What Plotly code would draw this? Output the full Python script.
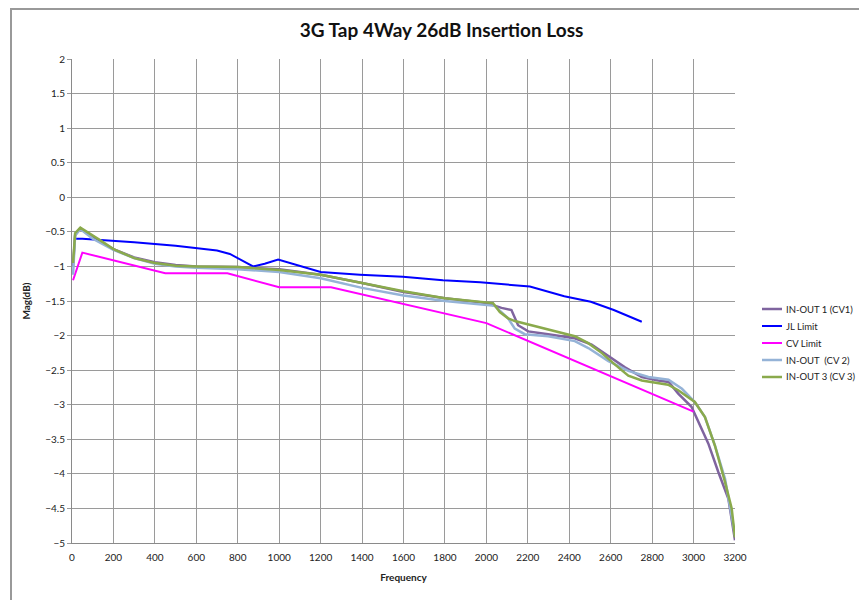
import plotly.graph_objects as go

# IN-OUT 1 (CV1)
f_cv1 = [5, 15, 40, 100, 200, 300, 400, 500, 600, 800, 1000, 1200, 1400, 1600, 1800, 2000,
         2073, 2121, 2153, 2202, 2298, 2427, 2508, 2589, 2669, 2750, 2830, 2880, 2926, 2990,
         3039, 3071, 3119, 3168, 3200]
m_cv1 = [-1.0, -0.55, -0.45, -0.58, -0.75, -0.87, -0.94, -0.98, -1.0, -1.01, -1.04, -1.12,
         -1.24, -1.37, -1.46, -1.53, -1.6, -1.63, -1.85, -1.94, -1.98, -2.04, -2.13, -2.3,
         -2.46, -2.6, -2.65, -2.67, -2.84, -3.03, -3.35, -3.56, -3.97, -4.36, -4.96]

# JL Limit
f_jl = [20, 50, 300, 500, 700, 762, 874, 930, 995, 1200, 1390, 1597, 1790, 1970, 2210, 2376,
        2504, 2615, 2750]
m_jl = [-0.6, -0.6, -0.65, -0.7, -0.77, -0.82, -1.0, -0.96, -0.9, -1.08, -1.12, -1.15, -1.2,
        -1.23, -1.29, -1.43, -1.51, -1.63, -1.8]

# CV Limit
f_cvl = [5, 50, 450, 750, 1000, 1250, 2000, 3000]
m_cvl = [-1.2, -0.8, -1.1, -1.1, -1.3, -1.3, -1.82, -3.1]

# IN-OUT (CV 2)
f_cv2 = [5, 15, 40, 100, 200, 300, 400, 500, 600, 800, 1000, 1200, 1400, 1600, 1800, 2000,
         2040, 2105, 2137, 2185, 2298, 2427, 2492, 2589, 2685, 2782, 2879, 2944, 3006, 3055,
         3103, 3152, 3200]
m_cv2 = [-1.12, -0.55, -0.46, -0.6, -0.76, -0.88, -0.96, -1.0, -1.02, -1.04, -1.08, -1.17,
         -1.31, -1.42, -1.5, -1.55, -1.57, -1.75, -1.9, -1.98, -2.01, -2.08, -2.18, -2.37,
         -2.51, -2.6, -2.64, -2.77, -2.96, -3.18, -3.59, -4.07, -4.89]

# IN-OUT 3 (CV 3)
f_cv3 = [5, 15, 40, 100, 135, 200, 300, 400, 500, 600, 800, 1000, 1200, 1400, 1600, 1800,
         2000, 2032, 2065, 2105, 2137, 2218, 2298, 2427, 2492, 2556, 2621, 2685, 2750, 2847,
         2877, 2926, 3006, 3055, 3103, 3152, 3184, 3200]
m_cv3 = [-0.95, -0.52, -0.44, -0.55, -0.62, -0.75, -0.88, -0.95, -0.99, -1.0, -1.01, -1.05,
         -1.12, -1.24, -1.36, -1.46, -1.52, -1.53, -1.66, -1.75, -1.79, -1.85, -1.92, -2.01,
         -2.11, -2.25, -2.42, -2.58, -2.65, -2.7, -2.71, -2.79, -2.96, -3.18, -3.59, -4.12,
         -4.5, -4.92]

x_ticks = list(range(0, 3201, 200))
y_ticks = [2, 1.5, 1, 0.5, 0, -0.5, -1, -1.5, -2, -2.5, -3, -3.5, -4, -4.5, -5]

FONT = "Lato"
W, H = 859, 592
ML, MR, MT, MB = 64, 132, 51, 57
PW, PH = W - ML - MR, H - MT - MB

series = [
    ('IN-OUT 1 (CV1)', f_cv1, m_cv1, '#7f649f', 2.5),
    ('JL Limit', f_jl, m_jl, '#0000ff', 2),
    ('CV Limit', f_cvl, m_cvl, '#ff00ff', 2),
    ('IN-OUT  (CV 2)', f_cv2, m_cv2, '#95b3d7', 2.5),
    ('IN-OUT 3 (CV 3)', f_cv3, m_cv3, '#8aaa4c', 2.5),
]

fig = go.Figure()
for name, fx, my, col, w in series:
    fig.add_trace(go.Scatter(x=fx, y=my, mode='lines', name=name,
                             line=dict(color=col, width=w), showlegend=False))

# hand-drawn legend (Excel style: short line + compact text)
for i, (name, fx, my, col, w) in enumerate(series):
    yy = (PH + MT - (301 + 17 * i)) / PH
    fig.add_shape(type='line', xref='paper', yref='paper',
                  x0=(754 - ML) / PW, x1=(774 - ML) / PW, y0=yy, y1=yy,
                  line=dict(color=col, width=w))
    fig.add_annotation(text=name, xref='paper', yref='paper', x=(776 - ML) / PW, y=yy,
                       xanchor='left', yanchor='middle', showarrow=False,
                       font=dict(family=FONT, size=9.5, color='#222'))

fig.update_layout(
    width=W, height=H,
    margin=dict(l=ML, r=MR, t=MT, b=MB, autoexpand=False),
    paper_bgcolor='white', plot_bgcolor='white',
    font=dict(family=FONT, size=10, color='#222'),
    title=dict(text='<b>3G Tap 4Way 26dB Insertion Loss</b>', x=0.5047, xanchor='center',
               y=0.963, yanchor='middle', font=dict(family=FONT, size=19, color='#111')),
    showlegend=False,
)
fig.update_xaxes(range=[0, 3200], tickvals=x_ticks, showgrid=True, gridcolor='#9a9a9a',
                 gridwidth=1, showline=True, linecolor='#8a8a8a', linewidth=1, mirror=False,
                 zeroline=False, ticks='outside', ticklen=5, tickcolor='rgba(0,0,0,0)',
                 tickfont=dict(size=10), automargin=False,
                 title=dict(text='<b>Frequency</b>', font=dict(size=10), standoff=11))
fig.update_yaxes(range=[-5, 2], tickvals=y_ticks, showgrid=True, gridcolor='#9a9a9a',
                 gridwidth=1, showline=True, linecolor='#8a8a8a', linewidth=1,
                 zeroline=False, ticks='outside', ticklen=4, tickcolor='#9a9a9a',
                 tickfont=dict(size=10), automargin=False,
                 title=dict(text='<b>Mag(dB)</b>', font=dict(size=10), standoff=12))

# outer chart border
fig.add_shape(type='rect', xref='paper', yref='paper', x0=(3 - ML) / PW, x1=(W + 10 - ML) / PW,
              y0=(PH + MT - H - 10) / PH, y1=(PH + MT - 1) / PH,
              line=dict(color='#999', width=2), fillcolor='rgba(0,0,0,0)', layer='above')

fig.write_html("out.html")
